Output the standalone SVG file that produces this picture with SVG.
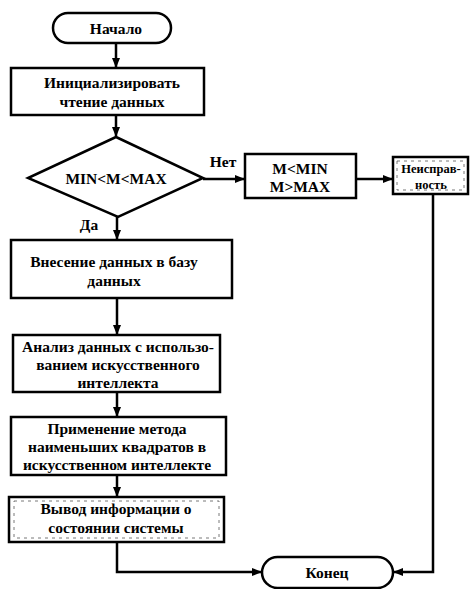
<svg xmlns="http://www.w3.org/2000/svg" width="470" height="589" viewBox="0 0 470 589">
<defs>
<style>
.n{fill:#fff;stroke:#000;stroke-width:2.5}
.t{font-family:"Liberation Serif","DejaVu Serif",serif;font-weight:bold;font-size:15.5px;fill:#000;text-anchor:middle}
.s{font-size:12.5px}
.c{fill:none;stroke:#000;stroke-width:2.5}
.d{fill:none;stroke:#555;stroke-width:0.8;stroke-dasharray:3 4}
</style>
<marker id="a" viewBox="0 0 10 10" refX="9" refY="5" markerWidth="4" markerHeight="4" orient="auto-start-reverse" markerUnits="strokeWidth">
<path d="M0,1 L10,5 L0,9 z" fill="#000"/>
</marker>
</defs>
<rect width="470" height="589" fill="#fff"/>
<g id="connectors">
<line class="c" x1="116" y1="43" x2="116" y2="67" marker-end="url(#a)"/>
<line class="c" x1="116" y1="115" x2="116" y2="136" marker-end="url(#a)"/>
<line class="c" x1="203" y1="179" x2="244" y2="179" marker-end="url(#a)"/>
<line class="c" x1="356" y1="179" x2="392" y2="179" marker-end="url(#a)"/>
<line class="c" x1="117" y1="217" x2="117" y2="239" marker-end="url(#a)"/>
<line class="c" x1="117" y1="298" x2="117" y2="334" marker-end="url(#a)"/>
<line class="c" x1="117" y1="392" x2="117" y2="416" marker-end="url(#a)"/>
<line class="c" x1="117" y1="475" x2="117" y2="496" marker-end="url(#a)"/>
<polyline class="c" points="117,542 117,572 261,572" marker-end="url(#a)"/>
<polyline class="c" points="433,194 433,572 394,572" marker-end="url(#a)"/>
<text class="t" x="223" y="167">Нет</text>
<text class="t" x="89" y="230">Да</text>
</g>
<g id="start">
<rect class="n" x="53" y="13" width="118" height="30" rx="15"/>
<text class="t" x="116" y="34">Начало</text>
</g>
<g id="init">
<rect class="n" x="11" y="68" width="193" height="47"/>
<text class="t" x="112" y="88">Инициализировать</text>
<text class="t" x="112" y="107">чтение данных</text>
</g>
<g id="check">
<polygon class="n" points="116,137 203,178 118,217 28,178"/>
<text class="t" x="116" y="184">MIN&lt;M&lt;MAX</text>
</g>
<g id="outrange">
<rect class="n" x="245" y="154" width="111" height="44"/>
<text class="t" x="300" y="174">M&lt;MIN</text>
<text class="t" x="300" y="192">M&gt;MAX</text>
</g>
<g id="fault">
<rect class="n" x="393" y="157" width="75" height="37"/>
<rect class="d" x="397" y="161" width="67" height="29"/>
<text class="t s" x="431" y="173">Неисправ-</text>
<text class="t s" x="431" y="189">ность</text>
</g>
<g id="store">
<rect class="n" x="11" y="240" width="221" height="58"/>
<text class="t" x="114" y="267">Внесение данных в базу</text>
<text class="t" x="114" y="286">данных</text>
</g>
<g id="analysis">
<rect class="n" x="13" y="335" width="207" height="57"/>
<text class="t" x="118" y="352">Анализ данных с использо-</text>
<text class="t" x="118" y="370">ванием искусственного</text>
<text class="t" x="118" y="388">интеллекта</text>
</g>
<g id="lsq">
<rect class="n" x="11" y="417" width="215" height="58"/>
<text class="t" x="117" y="434">Применение метода</text>
<text class="t" x="117" y="452">наименьших квадратов в</text>
<text class="t" x="117" y="470">искусственном интеллекте</text>
</g>
<g id="output">
<rect class="n" x="9" y="497" width="215" height="45"/>
<rect class="d" x="14" y="501" width="205" height="37"/>
<text class="t" x="116" y="514">Вывод информации о</text>
<text class="t" x="116" y="533">состоянии системы</text>
</g>
<g id="end">
<rect class="n" x="262" y="557" width="131" height="31" rx="15.5"/>
<text class="t" x="327" y="578">Конец</text>
</g>
</svg>
